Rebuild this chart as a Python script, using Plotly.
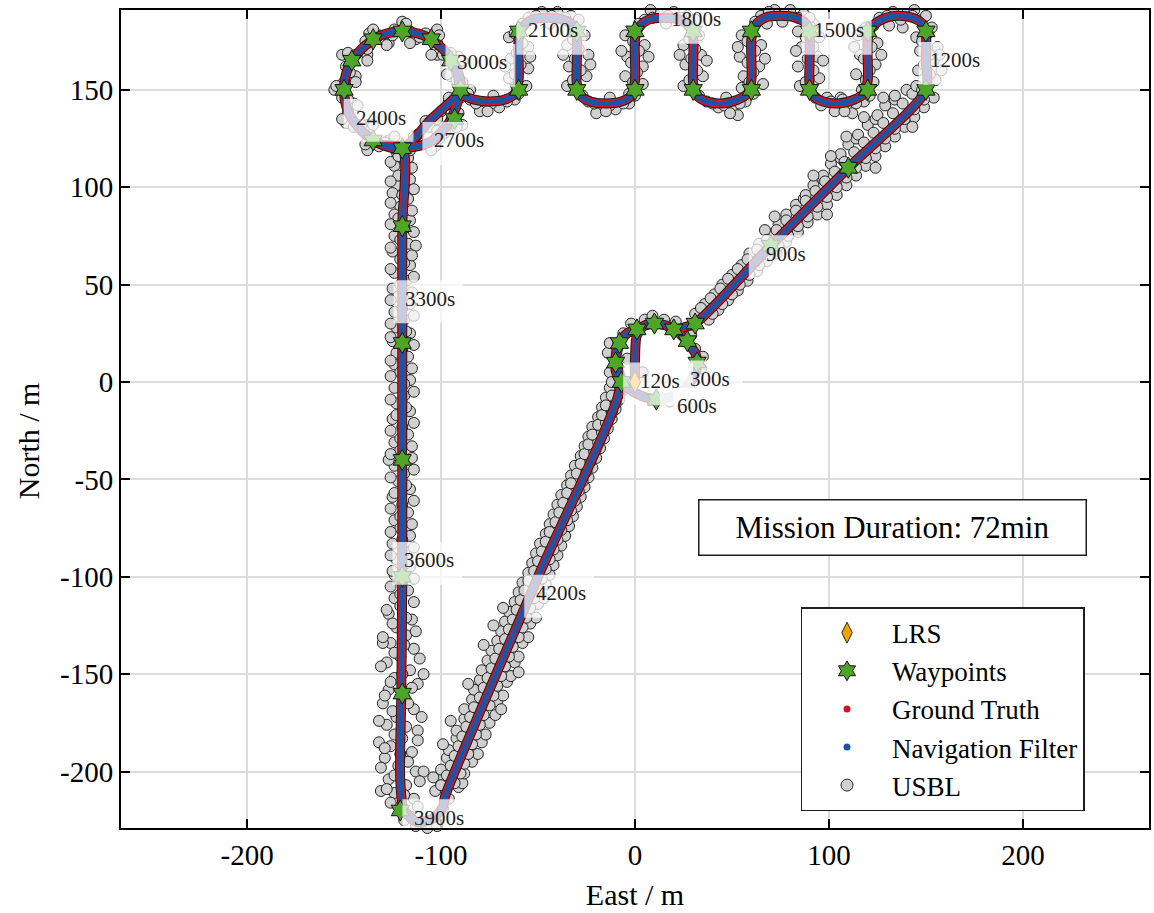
import plotly.graph_objects as go

# ---------------- data ----------------
# trajectory vertices (East, North) in metres
path_east = [0, 0, 1, 5, 10, 16, 20, 25, 28, 31, 32, 31, 26, 20, 11, 3, -4, -7, -10, -10, -9, -8, -4, 1, 5, 10, 16, 20, 25, 31,
             70, 110, 150, 150, 150, 148, 143, 135, 127, 122, 120, 120, 118, 113, 105, 97, 92, 90, 90, 90,
             88, 83, 75, 67, 62, 60, 60, 60, 58, 53, 45, 37, 32, 30, 30, 30, 28, 23, 15, 7, 2, 0, 0, 0,
             -2, -7, -15, -23, -28, -30, -30, -30, -32, -37, -45, -53, -58, -60, -60, -60,
             -62, -67, -75, -83, -88, -90,
             -92, -99, -109, -120, -131, -141, -148, -150, -148, -141, -131, -120, -105, -90,
             -92, -99, -109, -120, -131, -141, -148, -150, -148, -141, -131, -120, -106, -96, -90,
             -92, -99, -109, -120, -131, -141, -148, -150, -148, -141, -131, -120,
             -120, -120, -120, -120, -120.5, -121, -119, -112, -104, -99, -98, -50, -7, -10, -9]
path_north = [0, 12, 24, 29, 30, 29, 27, 23, 19, 15, 10, 4, -3, -7, -9, -7, -3, 0, 6, 10, 16, 20, 25, 27, 29, 30, 29, 27, 28, 30,
              70, 110, 150, 165, 178, 184, 187, 188, 186, 182, 176, 155, 148, 145, 143, 144, 147, 153, 165, 177,
              184, 187, 188, 187, 183, 176, 165, 155, 148, 145, 143, 144, 147, 153, 165, 177, 183, 186, 187, 186, 182, 176, 165, 155,
              147, 144, 143, 144, 147, 153, 165, 177, 183, 186, 187, 186, 182, 176, 165, 155,
              148, 145, 144, 145, 147, 150,
              161, 171, 178, 180, 178, 171, 161, 150, 139, 129, 122, 120, 135, 150,
              161, 171, 178, 180, 178, 171, 161, 150, 139, 129, 122, 120, 123, 133, 150,
              161, 171, 178, 180, 178, 171, 161, 150, 139, 129, 122, 120,
              80, 20, -40, -100, -160, -205, -220, -226, -224, -218, -213, -100, 0, 10, 20]

wp_east = [-7, -10, -8, 1, 10, 20, 31, 27, 32, 11, 70, 110, 150, 150, 120, 120, 90, 90, 60, 60, 30, 30, 0, 0,
           -30, -30, -60, -60, -90, -95, -105, -120, -135, -146, -150, -135, -120, -93,
           -120, -120, -120, -120, -120, -121]
wp_north = [0, 10, 20, 27, 30, 27, 30, 21, 10, -9, 70, 110, 150, 180, 180, 150, 150, 180, 180, 150, 150, 180, 180, 150,
            150, 180, 180, 150, 150, 165, 176, 180, 176, 165, 150, 124, 120, 135,
            80, 20, -40, -100, -160, -220]

lrs_east = [0]
lrs_north = [0]

usbl_fixes = [
    # southbound leg
    (-123, 118), (-117, 115), (-124, 111), (-118, 108), (-116, 104), (-123, 101), (-125, 97), (-117, 94), (-121, 90),
    (-124, 86), (-116, 83), (-119, 79), (-124, 75), (-117, 71), (-125, 67), (-121, 63), (-116, 60), (-124, 56),
    (-118, 52), (-125, 48), (-122, 44), (-116, 40), (-124, 36), (-119, 32), (-123, 28), (-116, 25), (-125, 21),
    (-120, 17), (-117, 13), (-124, 9), (-121, 5), (-116, 1), (-124, -3), (-119, -7), (-123, -11), (-116, -15),
    (-125, -19), (-120, -23), (-117, -27), (-124, -31), (-121, -35), (-115, -39), (-124, -43), (-119, -47),
    (-122, -51), (-116, -55), (-125, -59), (-120, -63), (-117, -67), (-124, -71), (-121, -75), (-116, -79),
    (-125, -83), (-119, -87), (-123, -91), (-116, -95), (-124, -99), (-120, -103), (-117, -107), (-124, -111),
    (-121, -115), (-127, -119), (-115, -122), (-123, -126), (-118, -130), (-126, -134), (-114, -137), (-121, -141),
    (-128, -144), (-116, -148), (-124, -152), (-112, -155), (-127, -158), (-119, -162), (-130, -165), (-114, -168),
    (-123, -172), (-128, -176), (-112, -179), (-120, -183), (-126, -187), (-115, -190), (-129, -193), (-122, -197),
    (-113, -200), (-127, -204), (-118, -207), (-124, -211), (-114, -214), (-121, -218),
    (-130, -134), (-109, -150), (-132, -185), (-109, -200), (-131, -210), (-127, -40), (-113, 70),
    (-119, 120), (-126, 113), (-115, 110), (-122, 106), (-126, 103), (-114, 99), (-120, 96), (-126, 92), (-115, 88),
    (-122, 84), (-126, 81), (-114, 77), (-121, 73), (-126, 69), (-115, 65), (-119, 61), (-126, 58), (-114, 54),
    (-121, 50), (-115, 46), (-126, 42), (-120, 38), (-114, 34), (-126, 30), (-118, 26), (-126, 23), (-114, 19),
    (-123, 15), (-126, 11), (-115, 7), (-126, 3), (-119, -1), (-114, -5), (-126, -9), (-118, -13), (-123, -17),
    (-114, -21), (-126, -25), (-121, -29), (-115, -33), (-126, -37), (-120, -41), (-114, -45), (-126, -49),
    (-118, -53), (-124, -57), (-114, -61), (-126, -65), (-121, -69), (-115, -73), (-126, -77), (-120, -81),
    (-114, -85), (-126, -89), (-118, -93), (-125, -97), (-114, -101), (-126, -105), (-121, -109), (-114, -113),
    (-128, -117), (-118, -121), (-125, -124), (-113, -128), (-130, -131), (-119, -135), (-124, -139), (-111, -142),
    (-131, -146), (-120, -150), (-126, -154), (-115, -157), (-129, -161), (-117, -165), (-125, -169), (-110, -172),
    (-132, -174), (-118, -177), (-124, -181), (-112, -184), (-129, -188), (-121, -191), (-117, -195), (-131, -198),
    (-124, -202), (-111, -205), (-128, -209), (-119, -212), (-126, -216), (-112, -218),
    # turn at the southern end
    (-116, -223), (-110, -226), (-104, -225), (-99, -219), (-107, -229), (-113, -228), (-96, -214), (-102, -228),
    (-119, -225),
    # return leg to the north-east
    (-103, -210), (-91, -208), (-101, -204), (-89, -206), (-100, -199), (-88, -201), (-94, -197), (-97, -193),
    (-84, -195), (-96, -189), (-86, -187), (-81, -191), (-92, -183), (-79, -185), (-92, -179), (-83, -176),
    (-77, -181), (-88, -173), (-75, -175), (-88, -168), (-79, -166), (-72, -171), (-84, -163), (-71, -164),
    (-83, -158), (-74, -156), (-68, -161), (-80, -153), (-66, -154), (-79, -148), (-70, -146), (-64, -151),
    (-76, -143), (-62, -144), (-74, -138), (-65, -136), (-60, -141), (-71, -133), (-58, -134), (-69, -128),
    (-61, -126), (-55, -131), (-67, -123), (-54, -124), (-65, -118), (-56, -116), (-51, -121), (-62, -113),
    (-50, -114), (-60, -108), (-52, -106), (-47, -111), (-58, -103), (-46, -104), (-55, -98), (-44, -99),
    (-53, -93), (-42, -94), (-51, -88), (-40, -89), (-49, -83), (-38, -84), (-46, -78), (-36, -79), (-44, -73),
    (-34, -74), (-42, -68), (-32, -69), (-40, -63), (-30, -64), (-38, -58), (-28, -59), (-35, -53), (-26, -54),
    (-33, -48), (-24, -49), (-31, -43), (-22, -44), (-28, -38), (-20, -39), (-26, -33), (-18, -34), (-24, -28),
    (-16, -29), (-22, -23), (-14, -24), (-19, -18), (-12, -19), (-17, -13), (-10, -14), (-15, -8), (-8, -9),
    (-13, -3), (-6, -4),
    (-100, -207), (-93, -206), (-97, -202), (-90, -201), (-95, -197), (-88, -196), (-104, -203), (-93, -192),
    (-86, -191), (-91, -187), (-84, -186), (-99, -186), (-89, -182), (-82, -181), (-87, -177), (-80, -176),
    (-95, -174), (-85, -172), (-78, -171), (-83, -167), (-75, -166), (-69, -168), (-80, -162), (-73, -161),
    (-78, -157), (-71, -156), (-86, -155), (-76, -152), (-69, -151), (-74, -147), (-67, -146), (-60, -149),
    (-72, -142), (-65, -141), (-70, -137), (-63, -136), (-78, -135), (-67, -132), (-60, -131), (-65, -127),
    (-58, -126), (-73, -125), (-63, -122), (-56, -121), (-61, -117), (-54, -116), (-68, -116), (-59, -112),
    (-52, -111), (-57, -107), (-50, -106), (-55, -102), (-48, -101), (-52, -97), (-46, -96), (-50, -92),
    (-44, -91), (-48, -87), (-42, -86), (-46, -82), (-40, -81), (-44, -77), (-38, -76), (-41, -72), (-35, -71),
    (-39, -67), (-33, -66), (-37, -62), (-31, -61), (-35, -57), (-29, -56), (-33, -52), (-27, -51), (-30, -47),
    (-25, -46), (-28, -42), (-23, -41), (-26, -37), (-21, -36), (-24, -32), (-19, -31), (-22, -27), (-17, -26),
    (-19, -22), (-15, -21), (-17, -17), (-12, -16), (-15, -12), (-10, -11), (-12, -7), (-8, -6),
    # small loop at the start
    (-13, 5), (-14, 15), (-6, 25), (5, 32), (15, 32), (24, 25), (31, 17), (34, 7), (-4, 12), (28, -3), (18, -10),
    (-12, 0), (-13, 20), (-2, 30), (9, 34), (21, 31), (29, 24), (35, 13), (4, 5), (-8, -2),
    # north-east leg
    (31, 35), (38, 32), (36, 40), (43, 37), (41, 45), (48, 42), (45, 50), (53, 47), (50, 55), (58, 52), (55, 60),
    (63, 57), (59, 66), (68, 62), (64, 71), (73, 66), (69, 76), (78, 72), (74, 81), (84, 77), (78, 86), (89, 82),
    (83, 91), (94, 86), (87, 94), (88, 96), (99, 91), (92, 101), (104, 96), (97, 104), (97, 106), (109, 101),
    (101, 112), (114, 106), (106, 115), (106, 117), (119, 111), (110, 122), (124, 116), (114, 125), (115, 127),
    (129, 121), (120, 132), (134, 126), (124, 135), (125, 137), (139, 131), (129, 142), (144, 136), (134, 145),
    (134, 147), (149, 141), (140, 150), (154, 146), (67, 78),
    (34, 38), (40, 35), (39, 43), (45, 40), (44, 48), (50, 45), (48, 53), (54, 50), (53, 58), (59, 55), (58, 63),
    (64, 60), (63, 68), (69, 65), (68, 73), (74, 70), (73, 78), (79, 75), (78, 83), (84, 80), (72, 85), (83, 88),
    (89, 85), (88, 93), (94, 90), (99, 86), (93, 98), (99, 95), (98, 103), (104, 100), (92, 106), (103, 108),
    (109, 105), (108, 113), (114, 110), (101, 116), (113, 118), (119, 115), (124, 110), (118, 123), (124, 120),
    (109, 126), (123, 128), (129, 125), (128, 133), (134, 130), (118, 136), (133, 138), (139, 135), (143, 131),
    (138, 143), (144, 140), (128, 146), (143, 148), (149, 145),
    # meander
    (145, 152), (155, 155), (146, 160), (154, 165), (147, 170), (156, 172), (145, 177), (153, 182),
    (148, 186), (140, 189), (133, 190), (126, 187), (138, 182), (131, 183), (144, 191),
    (115, 178), (125, 174), (116, 168), (124, 163), (114, 158), (123, 154), (117, 150),
    (118, 144), (110, 141), (103, 139), (96, 142), (106, 146), (112, 138), (99, 146),
    (85, 152), (95, 156), (84, 162), (94, 167), (86, 172), (95, 177), (84, 180), (92, 184),
    (87, 189), (80, 191), (72, 191), (65, 188), (76, 185), (68, 184),
    (55, 178), (65, 173), (54, 167), (64, 162), (56, 157), (66, 153), (55, 151),
    (57, 144), (50, 140), (43, 141), (37, 144), (47, 146), (53, 137),
    (25, 152), (35, 157), (26, 163), (34, 168), (25, 173), (33, 178), (28, 183),
    (27, 188), (20, 190), (12, 189), (5, 186), (16, 184), (8, 191),
    (-5, 178), (5, 173), (-4, 167), (4, 162), (-5, 157), (4, 153), (-3, 148),
    (-3, 143), (-10, 140), (-17, 141), (-24, 144), (-13, 146), (-20, 138),
    (-35, 152), (-25, 157), (-34, 162), (-24, 168), (-35, 173), (-26, 178), (-31, 184),
    (-33, 188), (-40, 190), (-48, 190), (-55, 187), (-44, 184), (-52, 192),
    (-65, 177), (-55, 172), (-64, 166), (-55, 161), (-65, 156), (-56, 152),
    (-62, 145), (-70, 141), (-78, 142), (-85, 145), (-73, 147), (-80, 139),
    (148, 150), (152, 158), (149, 163), (152, 168), (148, 175), (151, 179), (158, 160), (157, 168),
    (150, 188), (143, 188), (137, 186), (130, 188), (123, 183), (134, 192),
    (119, 182), (122, 172), (118, 166), (121, 160), (119, 155), (127, 168), (113, 172),
    (121, 147), (114, 143), (107, 145), (101, 144), (93, 146), (108, 139),
    (88, 154), (92, 160), (89, 166), (92, 172), (88, 177), (90, 183), (97, 165), (83, 170),
    (90, 187), (84, 187), (77, 189), (69, 190), (62, 185), (74, 193),
    (58, 175), (62, 170), (58, 164), (61, 159), (59, 154), (67, 166), (53, 172),
    (61, 148), (54, 143), (46, 142), (40, 143), (33, 147), (49, 138),
    (28, 155), (32, 160), (29, 166), (31, 171), (28, 176), (37, 165), (23, 168),
    (31, 186), (24, 187), (17, 188), (9, 187), (2, 184), (21, 193),
    (-1, 175), (2, 170), (-2, 164), (1, 159), (-1, 154), (7, 167), (-7, 170),
    (0, 147), (-6, 143), (-13, 142), (-21, 143), (-27, 147), (-15, 139),
    (-32, 155), (-28, 160), (-31, 166), (-29, 171), (-32, 176), (-23, 163), (-37, 168),
    (-29, 186), (-36, 187), (-43, 188), (-51, 188), (-58, 184), (-46, 193),
    (-62, 179), (-58, 174), (-61, 169), (-59, 163), (-62, 158), (-54, 167), (-67, 162),
    (-60, 148), (-66, 144), (-74, 143), (-82, 143), (-88, 147), (-76, 139), (-93, 145),
    # loops in the north-west
    (-85, 150), (-95, 157), (-91, 167), (-102, 168), (-102, 181), (-113, 176), (-120, 185), (-127, 174),
    (-137, 179), (-138, 168), (-151, 168), (-144, 157), (-155, 150), (-145, 143), (-149, 133), (-138, 132),
    (-138, 119), (-127, 124), (-120, 115), (-114, 126), (-103, 121), (-102, 132), (-89, 132), (-96, 144),
    (-89, 154), (-92, 162), (-95, 169), (-102, 174), (-108, 179), (-116, 180), (-124, 181), (-132, 178),
    (-139, 175), (-144, 168), (-149, 162), (-150, 154), (-151, 146), (-148, 139), (-145, 131), (-138, 126),
    (-132, 121), (-124, 120), (-116, 119), (-109, 122), (-101, 125), (-96, 132), (-91, 138), (-90, 146),
    (-112, 126), (-106, 131), (-100, 139), (-108, 134), (-98, 128),
    (-92, 155), (-99, 168), (-111, 177), (-125, 178), (-138, 171), (-147, 159), (-148, 145), (-141, 132),
    (-129, 123), (-115, 122), (-102, 129), (-93, 141),
    (-89, 165), (-101, 178), (-118, 184), (-135, 181), (-148, 169), (-154, 152), (-151, 135), (-139, 122),
    (-122, 116), (-105, 119), (-92, 131), (-86, 148),
    (-97, 158), (-105, 168), (-116, 174), (-128, 173), (-138, 165), (-144, 154), (-143, 142), (-135, 132),
    (-124, 126), (-112, 127), (-102, 135), (-96, 146),
]
usbl_east = [p[0] for p in usbl_fixes]
usbl_north = [p[1] for p in usbl_fixes]

time_labels = ["120s", "300s", "600s", "900s", "1200s", "1500s", "1800s", "2100s",
               "2400s", "2700s", "3000s", "3300s", "3600s", "3900s", "4200s"]
label_east = [12.9, 38.6, 31.9, 77.7, 165.2, 105.0, 31.4, -42.2,
              -131.2, -90.6, -78.7, -105.5, -106.0, -100.9, -38.1]
label_north = [0.5, 1.5, -12.5, 65.8, 165.1, 180.5, 186.2, 180.5,
               135.8, 124.0, 164.1, 42.7, -91.6, -223.7, -108.5]

x_ticks = [-200, -100, 0, 100, 200]
x_tick_text = ["-200", "-100", "0", "100", "200"]
y_ticks = [-200, -150, -100, -50, 0, 50, 100, 150]
y_tick_text = ["-200", "-150", "-100", "-50", "0", "50", "100", "150"]

# ---------------- styles ----------------
FONT = "Liberation Serif"
RED = "rgb(210,20,40)"
BLUE = "rgb(25,85,165)"
GREEN = "rgb(78,165,40)"
ORANGE = "rgb(245,162,0)"
GREY = "rgb(208,208,208)"

fig = go.Figure()

fig.add_trace(go.Scatter(x=usbl_east, y=usbl_north, mode="markers", showlegend=False, cliponaxis=False,
                         marker=dict(symbol="circle", size=11, color=GREY,
                                     line=dict(color="rgb(35,35,35)", width=1))))
fig.add_trace(go.Scatter(x=path_east, y=path_north, mode="lines", showlegend=False,
                         line=dict(color="rgb(30,30,30)", width=10, shape="spline", smoothing=0.8)))
fig.add_trace(go.Scatter(x=path_east, y=path_north, mode="lines", showlegend=False,
                         line=dict(color=RED, width=8, shape="spline", smoothing=0.8)))
fig.add_trace(go.Scatter(x=path_east, y=path_north, mode="lines", showlegend=False,
                         line=dict(color=BLUE, width=5, shape="spline", smoothing=0.8)))
fig.add_trace(go.Scatter(x=wp_east, y=wp_north, mode="markers", showlegend=False,
                         marker=dict(symbol="hexagram", size=16, color=GREEN,
                                     line=dict(color="rgb(20,20,20)", width=1))))
fig.add_trace(go.Scatter(x=lrs_east, y=lrs_north, mode="markers", showlegend=False,
                         marker=dict(symbol="diamond-tall", size=16, color=ORANGE,
                                     line=dict(color="rgb(40,40,40)", width=1))))

# legend entries
fig.add_trace(go.Scatter(x=[None], y=[None], mode="markers", name="LRS", legendgroup="a",
                         marker=dict(symbol="diamond-tall", size=15, color=ORANGE,
                                     line=dict(color="rgb(40,40,40)", width=1))))
fig.add_trace(go.Scatter(x=[None], y=[None], mode="markers", name="Waypoints", legendgroup="b",
                         marker=dict(symbol="hexagram", size=15, color=GREEN,
                                     line=dict(color="rgb(20,20,20)", width=1))))
fig.add_trace(go.Scatter(x=[None], y=[None], mode="markers", name="Ground Truth", legendgroup="c",
                         marker=dict(symbol="circle", size=7, color=RED)))
fig.add_trace(go.Scatter(x=[None], y=[None], mode="markers", name="Navigation Filter", legendgroup="d",
                         marker=dict(symbol="circle", size=7, color=BLUE)))
fig.add_trace(go.Scatter(x=[None], y=[None], mode="markers", name="USBL", legendgroup="e",
                         marker=dict(symbol="circle", size=12, color=GREY,
                                     line=dict(color="rgb(40,40,40)", width=1))))

# semi-transparent label boxes (data units: about 1.94 px per metre)
for xe, yn in zip(label_east, label_north):
    fig.add_shape(type="rect", layer="above", line=dict(width=0),
                  fillcolor="rgba(255,255,255,0.72)",
                  x0=xe - 19, x1=xe + 17, y0=yn - 12.5, y1=yn + 9.5)
for t, xe, yn in zip(time_labels, label_east, label_north):
    fig.add_annotation(x=xe, y=yn, text=t, showarrow=False, xanchor="center", yanchor="middle",
                       font=dict(family=FONT, size=21, color="rgb(30,30,30)"))

fig.add_annotation(x=132.8, y=-74.6, text="Mission Duration: 72min", showarrow=False,
                   font=dict(family=FONT, size=31, color="black"),
                   bgcolor="white", bordercolor="rgb(30,30,30)", borderwidth=1.5,
                   width=384, height=52, borderpad=1)

fig.add_annotation(xref="paper", yref="paper", x=-0.0903, y=0.473, text="North / m", showarrow=False,
                   textangle=-90, xanchor="center", yanchor="middle",
                   font=dict(family=FONT, size=30, color="black"))

axis_common = dict(showline=True, linecolor="black", linewidth=2, mirror="ticks",
                   ticks="inside", ticklen=9, tickwidth=2, tickcolor="black",
                   showgrid=True, gridcolor="rgb(220,220,220)", gridwidth=1.5,
                   zeroline=False, tickfont=dict(family=FONT, size=29, color="black"))

fig.update_layout(
    width=1154, height=913,
    margin=dict(l=121, r=3, t=10, b=85),
    paper_bgcolor="white", plot_bgcolor="white",
    xaxis=dict(range=[-265, 265], tickvals=x_ticks, ticktext=x_tick_text,
               title=dict(text="East / m", font=dict(family=FONT, size=30, color="black"), standoff=14),
               **axis_common),
    yaxis=dict(range=[-229, 191], tickvals=y_ticks, ticktext=y_tick_text, **axis_common),
    legend=dict(x=0.661, y=0.270, xanchor="left", yanchor="top", bgcolor="white",
                bordercolor="rgb(30,30,30)", borderwidth=1.5, itemwidth=80,
                entrywidth=289, entrywidthmode="pixels",
                font=dict(family=FONT, size=27, color="black"), tracegroupgap=0,
                traceorder="normal"),
)

fig.write_html("out.html")
